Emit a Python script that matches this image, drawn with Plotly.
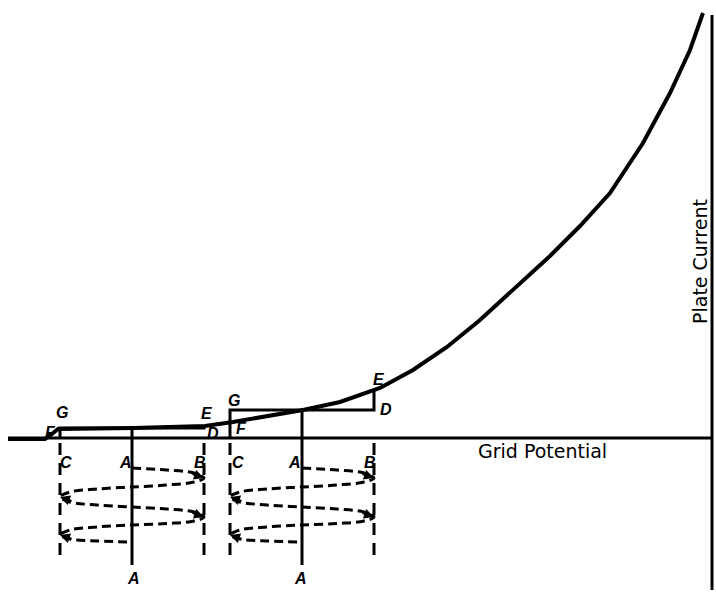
import plotly.graph_objects as go

# Tube characteristic: grid potential (x) vs plate current (y), arbitrary units
curve_grid = [-70.4, -66.7, -66.0, -65.4, -57.9, -50.7, -47.9, -44.2, -40.9, -37.2,
              -33.2, -29.9, -26.5, -23.2, -19.9, -16.2, -13.2, -10.2, -6.9, -4.2,
              -2.2, -0.9]
curve_plate = [-0.1, -0.1, 0.4, 0.9, 1.0, 1.2, 1.6, 2.2, 2.8, 3.6,
               5.0, 6.8, 9.1, 11.8, 14.8, 18.2, 21.2, 24.5, 29.5, 34.5,
               38.8, 42.5]

# two operating points (A) with the grid swing from C to B
op_grid = [-58.0, -41.0]
op_plate = [1.0, 2.8]
edge_plate = [1.2, 4.7]   # plate current at B (point E)
swing = 7.2

# signal trace drawn below the axis (offset from A, level)
trace_dx = [0, 3.5, 6.2, 7.2, 6.2, 3.5, 0, -3.5, -6.2, -7.2, -6.2, -3.5, 0,
            3.5, 6.2, 7.2, 6.2, 3.5, 0, -3.5, -6.2, -7.2, -6.2, -3.5, 0]
trace_y = [-3.0, -3.2, -3.5, -4.0, -4.4, -4.7, -4.9, -5.1, -5.4, -5.9, -6.4, -6.7, -6.9,
           -7.1, -7.4, -7.9, -8.3, -8.55, -8.7, -8.9, -9.2, -9.7, -10.1, -10.3, -10.4]
turn_y_right = [-4.0, -7.9]
turn_y_left = [-5.9, -9.7]

fig = go.Figure()
black = "black"

# axes drawn as lines
fig.add_trace(go.Scatter(x=[-70.4, 0], y=[0, 0], mode="lines",
                         line=dict(color=black, width=3), showlegend=False))
fig.add_trace(go.Scatter(x=[0, 0], y=[42.3, -15.2], mode="lines",
                         line=dict(color=black, width=3), showlegend=False))

# characteristic curve
fig.add_trace(go.Scatter(x=curve_grid, y=curve_plate, mode="lines",
                         line=dict(color=black, width=4), showlegend=False))

for i, a in enumerate(op_grid):
    c = a - swing
    b = a + swing
    top = op_plate[i]
    # rectangle G-D around operating point
    fig.add_trace(go.Scatter(x=[c, c, b, b], y=[0, top, top, edge_plate[i]], mode="lines",
                             line=dict(color=black, width=3), showlegend=False))
    # A line
    fig.add_trace(go.Scatter(x=[a, a], y=[top, -12.7], mode="lines",
                             line=dict(color=black, width=3), showlegend=False))
    # dashed C and B lines
    for xv in (c, b):
        fig.add_trace(go.Scatter(x=[xv, xv], y=[-0.5, -12.2], mode="lines",
                                 line=dict(color=black, width=3, dash="12px,8px"),
                                 showlegend=False))
    # signal swing trace
    fig.add_trace(go.Scatter(x=[a + d for d in trace_dx], y=trace_y, mode="lines",
                             line_shape="spline",
                             line=dict(color=black, width=3, dash="9px,5px"),
                             showlegend=False))
    for yv in turn_y_right:
        fig.add_annotation(x=b, y=yv, ax=b - 1.3, ay=yv + 0.45, xref="x", yref="y",
                           axref="x", ayref="y", text="", showarrow=True,
                           arrowhead=2, arrowsize=1, arrowwidth=2, arrowcolor=black)
    for yv in turn_y_left:
        fig.add_annotation(x=c, y=yv, ax=c + 1.3, ay=yv - 0.45, xref="x", yref="y",
                           axref="x", ayref="y", text="", showarrow=True,
                           arrowhead=2, arrowsize=1, arrowwidth=2, arrowcolor=black)

# letter labels
label_text = ["G", "E", "D", "F", "C", "A", "B", "A",
              "G", "E", "D", "F", "C", "A", "B", "A"]
label_x = [-65.0, -50.5, -49.9, -66.2, -64.6, -58.7, -51.2, -57.9,
           -47.8, -33.3, -32.6, -47.1, -47.4, -41.8, -34.2, -41.2]
label_y = [2.6, 2.5, 0.5, 0.6, -2.4, -2.4, -2.4, -14.0,
           3.8, 5.9, 2.9, 1.0, -2.4, -2.4, -2.4, -14.0]
for t, xv, yv in zip(label_text, label_x, label_y):
    fig.add_annotation(x=xv, y=yv, text="<b><i>" + t + "</i></b>", showarrow=False,
                       font=dict(family="Liberation Sans", size=16, color=black))

fig.add_annotation(x=-17.0, y=-1.3, text="Grid Potential", showarrow=False,
                   font=dict(family="DejaVu Sans", size=19, color=black))
fig.add_annotation(x=-1.2, y=17.6, text="Plate Current", showarrow=False, textangle=-90,
                   font=dict(family="DejaVu Sans", size=19, color=black))

fig.update_layout(
    width=716, height=610,
    margin=dict(l=0, r=0, t=0, b=0),
    plot_bgcolor="white", paper_bgcolor="white",
    xaxis=dict(range=[-71.2, 0.4], visible=False),
    yaxis=dict(range=[-17.2, 43.8], visible=False),
)

# drop the default page margin so the figure fills the window
fig.write_html("out.html", config={"displayModeBar": False},
               post_script="document.body.style.margin='0';document.body.style.overflow='hidden';")
